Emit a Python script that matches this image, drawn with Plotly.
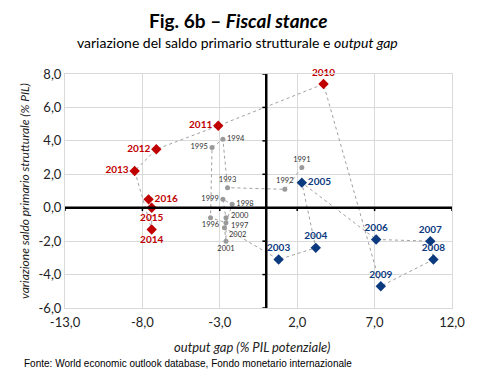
import plotly.graph_objects as go

# Data
years_grey = ["1991","1992","1993","1994","1995","1996","1997","1998","1999","2000","2001","2002"]
x_grey = [2.3, 1.2, -2.5, -2.8, -3.5, -3.6, -2.6, -2.2, -2.8, -2.6, -2.6, -2.7]
y_grey = [2.4, 1.1, 1.2, 4.1, 3.6, -0.6, -0.9, 0.2, 0.5, -0.6, -2.0, -1.2]
pos_grey = ["top center","top center","top center","middle right","middle left","bottom center",
            "middle right","middle right","middle left","middle right","bottom center","middle right"]
# vertical nudges (px) for the crowded labels, 0 = none
nudge_grey = [0, 0, 0, 0, 0, 0, -3, 0, 0, 2, 0, -7]

years_blue = ["2003","2004","2005","2006","2007","2008","2009"]
x_blue = [0.8, 3.2, 2.3, 7.1, 10.6, 10.8, 7.4]
y_blue = [-3.1, -2.4, 1.5, -1.9, -2.0, -3.1, -4.7]
pos_blue = ["top center","top center","middle right","top center","top center","top center","top center"]

years_red = ["2010","2011","2012","2013","2014","2015","2016"]
x_red = [3.7, -3.1, -7.1, -8.5, -7.4, -7.4, -7.6]
y_red = [7.4, 4.9, 3.5, 2.2, -1.3, 0.0, 0.5]
pos_red = ["top center","middle left","middle left","middle left","bottom center","bottom center","middle right"]

x_ticks = [-13, -8, -3, 2, 7, 12]
x_ticklabels = ["-13,0", "-8,0", "-3,0", "2,0", "7,0", "12,0"]
y_ticks = [-6, -4, -2, 0, 2, 4, 6, 8]
y_ticklabels = ["-6,0", "-4,0", "-2,0", "0,0", "2,0", "4,0", "6,0", "8,0"]

FONT = "Lato"
RED = "#c00000"
BLUE = "#0b3a7e"
GREY = "#9a9a9a"

fig = go.Figure()

# connecting path
fig.add_trace(go.Scatter(
    x=x_grey + x_blue + x_red, y=y_grey + y_blue + y_red, mode="lines",
    line=dict(color="#a0a0a0", width=1, dash="dot"), hoverinfo="skip", showlegend=False))

# grey labels: plain text positions unless nudged (nudged ones become annotations)
grey_text = [t if n == 0 else "" for t, n in zip(years_grey, nudge_grey)]
fig.add_trace(go.Scatter(
    x=x_grey, y=y_grey, mode="markers+text", text=grey_text, textposition=pos_grey,
    marker=dict(symbol="circle", size=5, color=GREY), cliponaxis=False,
    textfont=dict(family=FONT, size=7.5, color="#333333"), showlegend=False))
fig.add_trace(go.Scatter(
    x=x_blue, y=y_blue, mode="markers+text", text=years_blue, textposition=pos_blue,
    marker=dict(symbol="diamond", size=8, color=BLUE), cliponaxis=False,
    textfont=dict(family=FONT, size=10, color=BLUE, weight="bold"), showlegend=False))
fig.add_trace(go.Scatter(
    x=x_red, y=y_red, mode="markers+text", text=years_red, textposition=pos_red,
    marker=dict(symbol="diamond", size=8, color=RED), cliponaxis=False,
    textfont=dict(family=FONT, size=10, color=RED, weight="bold"), showlegend=False))

annotations = []
for t, xv, yv, n in zip(years_grey, x_grey, y_grey, nudge_grey):
    if n != 0:
        annotations.append(dict(text=t, x=xv, y=yv, xref="x", yref="y", xanchor="left",
                                yanchor="middle", xshift=3, yshift=n, showarrow=False,
                                font=dict(family=FONT, size=7.5, color="#333333")))

shapes = []
# thick central axes
shapes.append(dict(type="line", xref="x", yref="y", x0=0, x1=0, y0=-6, y1=8,
                   line=dict(color="black", width=2.5), layer="above"))
shapes.append(dict(type="line", xref="x", yref="y", x0=-13, x1=12, y0=0, y1=0,
                   line=dict(color="black", width=2.5), layer="above"))
# small ticks on the central axes
for yv in y_ticks:
    shapes.append(dict(type="line", xref="x", yref="y", x0=-0.25, x1=0, y0=yv, y1=yv,
                       line=dict(color="black", width=1.5)))
for xv in x_ticks:
    shapes.append(dict(type="line", xref="x", yref="y", x0=xv, x1=xv, y0=-0.2, y1=0,
                       line=dict(color="black", width=1.5)))

annotations += [
    dict(text="<b>Fig. 6b – <i>Fiscal stance</i></b>", xref="paper", yref="paper",
         x=0.447, y=1, yshift=54, xanchor="center", yanchor="middle", showarrow=False,
         font=dict(family=FONT, size=19, color="black")),
    dict(text="variazione del saldo primario strutturale e <i>output gap</i>", xref="paper", yref="paper",
         x=0.447, y=1, yshift=32, xanchor="center", yanchor="middle", showarrow=False,
         font=dict(family=FONT, size=14, color="black")),
    dict(text="<i>output gap (% PIL potenziale)</i>", xref="paper", yref="paper",
         x=0.482, y=0, yshift=-39, xanchor="center", yanchor="middle", showarrow=False,
         font=dict(family=FONT, size=13, color="#222222")),
    dict(text="Fonte: World economic outlook database, Fondo monetario internazionale",
         xref="paper", yref="paper", x=0, xshift=-43, y=0, yshift=-55,
         xanchor="left", yanchor="middle", showarrow=False,
         font=dict(family="Liberation Sans", size=10, color="black")),
]

fig.update_layout(
    width=474, height=381,
    margin=dict(l=57, r=30, t=66, b=81),
    paper_bgcolor="white", plot_bgcolor="white",
    font=dict(family=FONT, size=12, color="#222222"),
    shapes=shapes,
    xaxis=dict(range=[-13, 12], tickvals=x_ticks, ticktext=x_ticklabels,
               showgrid=True, gridcolor="#d9d9d9", gridwidth=1,
               zeroline=False, showline=True, linecolor="#d9d9d9", mirror=True,
               tickfont=dict(family=FONT, size=13, color="#222222"), ticks="",
               ticklabelstandoff=2),
    yaxis=dict(range=[-6, 8], tickvals=y_ticks, ticktext=y_ticklabels,
               showgrid=True, gridcolor="#d9d9d9", gridwidth=1,
               zeroline=False, showline=True, linecolor="#d9d9d9", mirror=True,
               tickfont=dict(family=FONT, size=13, color="#222222"), ticks="",
               title=dict(text="<i>variazione saldo primario strutturale (% PIL)</i>",
                          font=dict(family=FONT, size=12, color="#222222"), standoff=6)),
    annotations=annotations,
)

fig.write_html("out.html")
